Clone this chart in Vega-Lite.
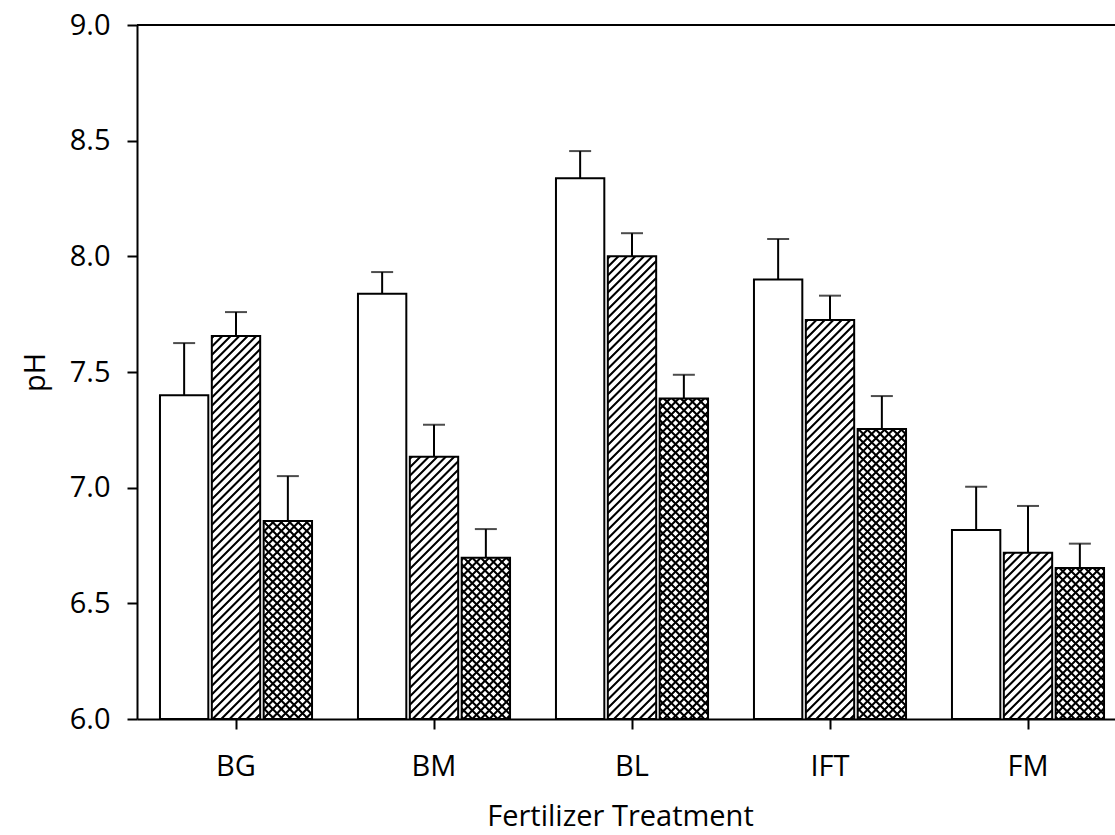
{
  "$schema": "https://vega.github.io/schema/vega-lite/v6.json",
  "width": 978,
  "height": 694,
  "autosize": "none",
  "padding": {"left": 137, "top": 25, "right": 0, "bottom": 116},
  "background": "white",
  "config": {
    "view": {"stroke": null},
    "font": "Open Sans",
    "axis": {
      "domainColor": "black", "domainWidth": 2, "tickColor": "black", "tickWidth": 2, "tickSize": 10,
      "labelFont": "Open Sans", "labelFontSize": 29, "labelColor": "black",
      "titleFont": "Open Sans", "titleFontSize": 29, "titleFontWeight": "normal", "titleColor": "black", "grid": false
    },
    "axisX": {"labelAngle": 0, "labelPadding": 23, "titleX": 483, "titleY": 97, "titleBaseline": "middle", "titleAlign": "center"},
    "axisY": {"labelPadding": 17, "titleX": -102, "titleY": 347, "titleAngle": 270, "titleBaseline": "middle", "titleAlign": "center"}
  },
  "params": [
    {"name": "hatch", "value": [
      {"offset":0,"color":"transparent"},{"offset":0.0025,"color":"black"},{"offset":0.0058,"color":"black"},{"offset":0.0083,"color":"transparent"},
      {"offset":0.0167,"color":"transparent"},{"offset":0.0192,"color":"black"},{"offset":0.0225,"color":"black"},{"offset":0.025,"color":"transparent"},
      {"offset":0.0333,"color":"transparent"},{"offset":0.0358,"color":"black"},{"offset":0.0391,"color":"black"},{"offset":0.0416,"color":"transparent"},
      {"offset":0.05,"color":"transparent"},{"offset":0.0525,"color":"black"},{"offset":0.0558,"color":"black"},{"offset":0.0583,"color":"transparent"},
      {"offset":0.0667,"color":"transparent"},{"offset":0.0692,"color":"black"},{"offset":0.0725,"color":"black"},{"offset":0.075,"color":"transparent"},
      {"offset":0.0833,"color":"transparent"},{"offset":0.0858,"color":"black"},{"offset":0.0891,"color":"black"},{"offset":0.0916,"color":"transparent"},
      {"offset":0.1,"color":"transparent"},{"offset":0.1025,"color":"black"},{"offset":0.1058,"color":"black"},{"offset":0.1083,"color":"transparent"},
      {"offset":0.1167,"color":"transparent"},{"offset":0.1192,"color":"black"},{"offset":0.1225,"color":"black"},{"offset":0.125,"color":"transparent"},
      {"offset":0.1333,"color":"transparent"},{"offset":0.1358,"color":"black"},{"offset":0.1391,"color":"black"},{"offset":0.1416,"color":"transparent"},
      {"offset":0.15,"color":"transparent"},{"offset":0.1525,"color":"black"},{"offset":0.1558,"color":"black"},{"offset":0.1583,"color":"transparent"},
      {"offset":0.1667,"color":"transparent"},{"offset":0.1692,"color":"black"},{"offset":0.1725,"color":"black"},{"offset":0.175,"color":"transparent"},
      {"offset":0.1833,"color":"transparent"},{"offset":0.1858,"color":"black"},{"offset":0.1891,"color":"black"},{"offset":0.1916,"color":"transparent"},
      {"offset":0.2,"color":"transparent"},{"offset":0.2025,"color":"black"},{"offset":0.2058,"color":"black"},{"offset":0.2083,"color":"transparent"},
      {"offset":0.2167,"color":"transparent"},{"offset":0.2192,"color":"black"},{"offset":0.2225,"color":"black"},{"offset":0.225,"color":"transparent"},
      {"offset":0.2333,"color":"transparent"},{"offset":0.2358,"color":"black"},{"offset":0.2391,"color":"black"},{"offset":0.2416,"color":"transparent"},
      {"offset":0.25,"color":"transparent"},{"offset":0.2525,"color":"black"},{"offset":0.2558,"color":"black"},{"offset":0.2583,"color":"transparent"},
      {"offset":0.2667,"color":"transparent"},{"offset":0.2692,"color":"black"},{"offset":0.2725,"color":"black"},{"offset":0.275,"color":"transparent"},
      {"offset":0.2833,"color":"transparent"},{"offset":0.2858,"color":"black"},{"offset":0.2891,"color":"black"},{"offset":0.2916,"color":"transparent"},
      {"offset":0.3,"color":"transparent"},{"offset":0.3025,"color":"black"},{"offset":0.3058,"color":"black"},{"offset":0.3083,"color":"transparent"},
      {"offset":0.3167,"color":"transparent"},{"offset":0.3192,"color":"black"},{"offset":0.3225,"color":"black"},{"offset":0.325,"color":"transparent"},
      {"offset":0.3333,"color":"transparent"},{"offset":0.3358,"color":"black"},{"offset":0.3391,"color":"black"},{"offset":0.3416,"color":"transparent"},
      {"offset":0.35,"color":"transparent"},{"offset":0.3525,"color":"black"},{"offset":0.3558,"color":"black"},{"offset":0.3583,"color":"transparent"},
      {"offset":0.3667,"color":"transparent"},{"offset":0.3692,"color":"black"},{"offset":0.3725,"color":"black"},{"offset":0.375,"color":"transparent"},
      {"offset":0.3833,"color":"transparent"},{"offset":0.3858,"color":"black"},{"offset":0.3891,"color":"black"},{"offset":0.3916,"color":"transparent"},
      {"offset":0.4,"color":"transparent"},{"offset":0.4025,"color":"black"},{"offset":0.4058,"color":"black"},{"offset":0.4083,"color":"transparent"},
      {"offset":0.4167,"color":"transparent"},{"offset":0.4192,"color":"black"},{"offset":0.4225,"color":"black"},{"offset":0.425,"color":"transparent"},
      {"offset":0.4333,"color":"transparent"},{"offset":0.4358,"color":"black"},{"offset":0.4391,"color":"black"},{"offset":0.4416,"color":"transparent"},
      {"offset":0.45,"color":"transparent"},{"offset":0.4525,"color":"black"},{"offset":0.4558,"color":"black"},{"offset":0.4583,"color":"transparent"},
      {"offset":0.4667,"color":"transparent"},{"offset":0.4692,"color":"black"},{"offset":0.4725,"color":"black"},{"offset":0.475,"color":"transparent"},
      {"offset":0.4833,"color":"transparent"},{"offset":0.4858,"color":"black"},{"offset":0.4891,"color":"black"},{"offset":0.4916,"color":"transparent"},
      {"offset":0.5,"color":"transparent"},{"offset":0.5025,"color":"black"},{"offset":0.5058,"color":"black"},{"offset":0.5083,"color":"transparent"},
      {"offset":0.5167,"color":"transparent"},{"offset":0.5192,"color":"black"},{"offset":0.5225,"color":"black"},{"offset":0.525,"color":"transparent"},
      {"offset":0.5333,"color":"transparent"},{"offset":0.5358,"color":"black"},{"offset":0.5391,"color":"black"},{"offset":0.5416,"color":"transparent"},
      {"offset":0.55,"color":"transparent"},{"offset":0.5525,"color":"black"},{"offset":0.5558,"color":"black"},{"offset":0.5583,"color":"transparent"},
      {"offset":0.5667,"color":"transparent"},{"offset":0.5692,"color":"black"},{"offset":0.5725,"color":"black"},{"offset":0.575,"color":"transparent"},
      {"offset":0.5833,"color":"transparent"},{"offset":0.5858,"color":"black"},{"offset":0.5891,"color":"black"},{"offset":0.5916,"color":"transparent"},
      {"offset":0.6,"color":"transparent"},{"offset":0.6025,"color":"black"},{"offset":0.6058,"color":"black"},{"offset":0.6083,"color":"transparent"},
      {"offset":0.6167,"color":"transparent"},{"offset":0.6192,"color":"black"},{"offset":0.6225,"color":"black"},{"offset":0.625,"color":"transparent"},
      {"offset":0.6333,"color":"transparent"},{"offset":0.6358,"color":"black"},{"offset":0.6391,"color":"black"},{"offset":0.6416,"color":"transparent"},
      {"offset":0.65,"color":"transparent"},{"offset":0.6525,"color":"black"},{"offset":0.6558,"color":"black"},{"offset":0.6583,"color":"transparent"},
      {"offset":0.6667,"color":"transparent"},{"offset":0.6692,"color":"black"},{"offset":0.6725,"color":"black"},{"offset":0.675,"color":"transparent"},
      {"offset":0.6833,"color":"transparent"},{"offset":0.6858,"color":"black"},{"offset":0.6891,"color":"black"},{"offset":0.6916,"color":"transparent"},
      {"offset":0.7,"color":"transparent"},{"offset":0.7025,"color":"black"},{"offset":0.7058,"color":"black"},{"offset":0.7083,"color":"transparent"},
      {"offset":0.7167,"color":"transparent"},{"offset":0.7192,"color":"black"},{"offset":0.7225,"color":"black"},{"offset":0.725,"color":"transparent"},
      {"offset":0.7333,"color":"transparent"},{"offset":0.7358,"color":"black"},{"offset":0.7391,"color":"black"},{"offset":0.7416,"color":"transparent"},
      {"offset":0.75,"color":"transparent"},{"offset":0.7525,"color":"black"},{"offset":0.7558,"color":"black"},{"offset":0.7583,"color":"transparent"},
      {"offset":0.7667,"color":"transparent"},{"offset":0.7692,"color":"black"},{"offset":0.7725,"color":"black"},{"offset":0.775,"color":"transparent"},
      {"offset":0.7833,"color":"transparent"},{"offset":0.7858,"color":"black"},{"offset":0.7891,"color":"black"},{"offset":0.7916,"color":"transparent"},
      {"offset":0.8,"color":"transparent"},{"offset":0.8025,"color":"black"},{"offset":0.8058,"color":"black"},{"offset":0.8083,"color":"transparent"},
      {"offset":0.8167,"color":"transparent"},{"offset":0.8192,"color":"black"},{"offset":0.8225,"color":"black"},{"offset":0.825,"color":"transparent"},
      {"offset":0.8333,"color":"transparent"},{"offset":0.8358,"color":"black"},{"offset":0.8391,"color":"black"},{"offset":0.8416,"color":"transparent"},
      {"offset":0.85,"color":"transparent"},{"offset":0.8525,"color":"black"},{"offset":0.8558,"color":"black"},{"offset":0.8583,"color":"transparent"},
      {"offset":0.8667,"color":"transparent"},{"offset":0.8692,"color":"black"},{"offset":0.8725,"color":"black"},{"offset":0.875,"color":"transparent"},
      {"offset":0.8833,"color":"transparent"},{"offset":0.8858,"color":"black"},{"offset":0.8891,"color":"black"},{"offset":0.8916,"color":"transparent"},
      {"offset":0.9,"color":"transparent"},{"offset":0.9025,"color":"black"},{"offset":0.9058,"color":"black"},{"offset":0.9083,"color":"transparent"},
      {"offset":0.9167,"color":"transparent"},{"offset":0.9192,"color":"black"},{"offset":0.9225,"color":"black"},{"offset":0.925,"color":"transparent"},
      {"offset":0.9333,"color":"transparent"},{"offset":0.9358,"color":"black"},{"offset":0.9391,"color":"black"},{"offset":0.9416,"color":"transparent"},
      {"offset":0.95,"color":"transparent"},{"offset":0.9525,"color":"black"},{"offset":0.9558,"color":"black"},{"offset":0.9583,"color":"transparent"},
      {"offset":0.9667,"color":"transparent"},{"offset":0.9692,"color":"black"},{"offset":0.9725,"color":"black"},{"offset":0.975,"color":"transparent"},
      {"offset":0.9833,"color":"transparent"},{"offset":0.9858,"color":"black"},{"offset":0.9891,"color":"black"},{"offset":0.9916,"color":"transparent"}
    ]}
  ],
  "data": {"values": [
    {"treatment":"BG","series":"S1","ph":7.40,"hi":7.625},
    {"treatment":"BG","series":"S2","ph":7.656,"hi":7.759},
    {"treatment":"BG","series":"S3","ph":6.856,"hi":7.05},
    {"treatment":"BM","series":"S1","ph":7.838,"hi":7.932},
    {"treatment":"BM","series":"S2","ph":7.134,"hi":7.272},
    {"treatment":"BM","series":"S3","ph":6.697,"hi":6.821},
    {"treatment":"BL","series":"S1","ph":8.337,"hi":8.455},
    {"treatment":"BL","series":"S2","ph":8.0,"hi":8.1},
    {"treatment":"BL","series":"S3","ph":7.385,"hi":7.488},
    {"treatment":"IFT","series":"S1","ph":7.9,"hi":8.075},
    {"treatment":"IFT","series":"S2","ph":7.725,"hi":7.83},
    {"treatment":"IFT","series":"S3","ph":7.254,"hi":7.396},
    {"treatment":"FM","series":"S1","ph":6.817,"hi":7.004},
    {"treatment":"FM","series":"S2","ph":6.719,"hi":6.921},
    {"treatment":"FM","series":"S3","ph":6.653,"hi":6.758}
  ]},
  "layer": [
    {
      "mark": {"type": "bar", "fill": "white", "strokeWidth": 0},
      "encoding": {
        "x": {"field": "treatment", "type": "nominal", "sort": ["BG","BM","BL","IFT","FM"], "title": "Fertilizer Treatment",
              "scale": {"range": [0, 990], "paddingInner": 0.232, "paddingOuter": 0.116}},
        "xOffset": {"field": "series", "type": "nominal", "sort": ["S1","S2","S3"], "scale": {"paddingInner": 0.0676, "paddingOuter": 0}},
        "y": {"field": "ph", "type": "quantitative", "title": "pH", "scale": {"domain": [6, 9], "zero": false, "nice": false},
              "axis": {"values": [6, 6.5, 7, 7.5, 8, 8.5, 9], "format": ".1f"}},
        "y2": {"datum": 6}
      }
    },
    {
      "transform": [{"filter": "datum.series != 'S1'"}],
      "mark": {"type": "bar", "strokeWidth": 0,
               "fill": {"expr": "{gradient:'linear',x1:0,y1:0,x2:509.1*bandwidth('xOffset')/(pow(bandwidth('xOffset'),2)+pow(scale('y',6)-scale('y',datum.ph),2)),y2:509.1*(scale('y',6)-scale('y',datum.ph))/(pow(bandwidth('xOffset'),2)+pow(scale('y',6)-scale('y',datum.ph),2)),stops:hatch}"}},
      "encoding": {
        "x": {"field": "treatment", "type": "nominal", "sort": ["BG","BM","BL","IFT","FM"], "title": "Fertilizer Treatment"},
        "xOffset": {"field": "series", "type": "nominal", "sort": ["S1","S2","S3"]},
        "y": {"field": "ph", "type": "quantitative", "title": "pH"},
        "y2": {"datum": 6}
      }
    },
    {
      "transform": [{"filter": "datum.series == 'S3'"}],
      "mark": {"type": "bar", "strokeWidth": 0,
               "fill": {"expr": "{gradient:'linear',x1:0,y1:1,x2:509.1*bandwidth('xOffset')/(pow(bandwidth('xOffset'),2)+pow(scale('y',6)-scale('y',datum.ph),2)),y2:1-509.1*(scale('y',6)-scale('y',datum.ph))/(pow(bandwidth('xOffset'),2)+pow(scale('y',6)-scale('y',datum.ph),2)),stops:hatch}"}},
      "encoding": {
        "x": {"field": "treatment", "type": "nominal", "sort": ["BG","BM","BL","IFT","FM"], "title": "Fertilizer Treatment"},
        "xOffset": {"field": "series", "type": "nominal", "sort": ["S1","S2","S3"]},
        "y": {"field": "ph", "type": "quantitative", "title": "pH"},
        "y2": {"datum": 6}
      }
    },
    {
      "mark": {"type": "rule", "color": "black", "strokeWidth": 2},
      "encoding": {
        "x": {"field": "treatment", "type": "nominal", "sort": ["BG","BM","BL","IFT","FM"], "title": "Fertilizer Treatment"},
        "xOffset": {"field": "series", "type": "nominal", "sort": ["S1","S2","S3"]},
        "y": {"field": "ph", "type": "quantitative", "title": "pH"},
        "y2": {"field": "hi"}
      }
    },
    {
      "mark": {"type": "tick", "orient": "horizontal", "color": "black", "size": 22, "thickness": 2},
      "encoding": {
        "x": {"field": "treatment", "type": "nominal", "sort": ["BG","BM","BL","IFT","FM"], "title": "Fertilizer Treatment"},
        "xOffset": {"field": "series", "type": "nominal", "sort": ["S1","S2","S3"]},
        "y": {"field": "hi", "type": "quantitative", "title": "pH"}
      }
    },
    {
      "mark": {"type": "bar", "fill": "transparent", "stroke": "black", "strokeWidth": 2},
      "encoding": {
        "x": {"field": "treatment", "type": "nominal", "sort": ["BG","BM","BL","IFT","FM"], "title": "Fertilizer Treatment"},
        "xOffset": {"field": "series", "type": "nominal", "sort": ["S1","S2","S3"]},
        "y": {"field": "ph", "type": "quantitative", "title": "pH"},
        "y2": {"datum": 6}
      }
    },
    {
      "data": {"values": [{}]},
      "mark": {"type": "rule", "color": "black", "strokeWidth": 2},
      "encoding": {"y": {"datum": 9, "type": "quantitative"}}
    }
  ]
}
